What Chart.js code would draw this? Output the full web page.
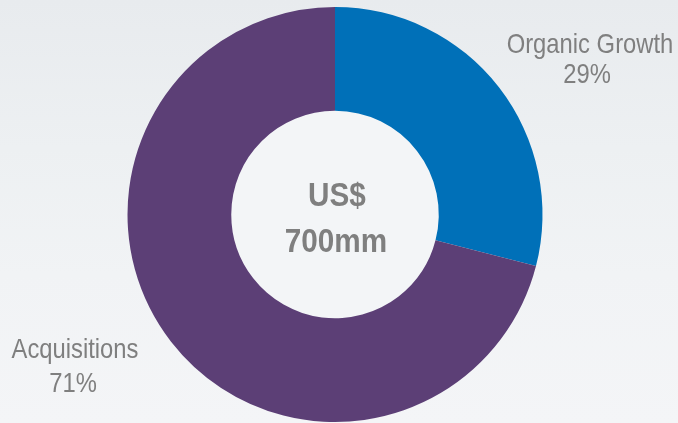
<!DOCTYPE html>
<html>
<head>
<meta charset="utf-8">
<script src="https://cdn.jsdelivr.net/npm/chart.js@4"></script>
<style>
  html, body { margin: 0; padding: 0; }
  body {
    width: 678px; height: 423px; overflow: hidden;
    background: linear-gradient(180deg, #e8ebee 0%, #edf0f2 35%, #f1f3f5 65%, #f4f5f7 100%);
  }
  #wrap { position: relative; width: 678px; height: 423px; }
</style>
</head>
<body>
<div id="wrap"><canvas id="mixChart" width="678" height="423"></canvas></div>
<script>
// Chart data
const categories = ["Organic Growth", "Acquisitions"];
const shares = [29, 71];
const sliceColors = ["#0070b8", "#5c3f76"];
const centerLines = ["US$", "700mm"];

// draw text slightly condensed like the original
function drawText(ctx, str, x, y, font, scaleX) {
  ctx.save();
  ctx.translate(x, y);
  ctx.scale(scaleX, 1);
  ctx.font = font;
  ctx.fillText(str, 0, 0);
  ctx.restore();
}

// Labels around and inside the ring
const labelPlugin = {
  id: "labelPlugin",
  beforeDatasetsDraw(chart) {
    // lighter fill for the hole
    const ctx = chart.ctx;
    const arc = chart.getDatasetMeta(0).data[0];
    ctx.save();
    ctx.fillStyle = "#f3f5f7";
    ctx.beginPath();
    ctx.arc(arc.x, arc.y, arc.innerRadius + 1, 0, Math.PI * 2);
    ctx.fill();
    ctx.restore();
  },
  afterDraw(chart) {
    const ctx = chart.ctx;
    const arc = chart.getDatasetMeta(0).data[0];
    const cx = arc.x, cy = arc.y;
    ctx.save();
    ctx.fillStyle = "#7f7f7f";
    ctx.textAlign = "center";
    ctx.textBaseline = "alphabetic";

    const f = "28px 'Liberation Sans', Arial, sans-serif";
    drawText(ctx, categories[0], 590, 53, f, 0.85);
    drawText(ctx, shares[0] + "%", 587, 83, f, 0.85);
    drawText(ctx, categories[1], 75, 358, f, 0.85);
    drawText(ctx, shares[1] + "%", 73, 392, f, 0.85);

    const fb = "bold 33px 'Liberation Sans', Arial, sans-serif";
    drawText(ctx, centerLines[0], cx + 2, cy - 9, fb, 0.9);
    drawText(ctx, centerLines[1], cx + 1, cy + 37, fb, 0.9);
    ctx.restore();
  }
};

const ctx = document.getElementById("mixChart").getContext("2d");
new Chart(ctx, {
  type: "doughnut",
  data: {
    labels: categories,
    datasets: [
      {
        data: shares,
        backgroundColor: sliceColors,
        borderWidth: 0
      }
    ]
  },
  options: {
    responsive: false,
    animation: false,
    cutout: "50%",
    layout: { padding: { top: 7, bottom: 1, left: 0, right: 8 } },
    plugins: {
      legend: { display: false },
      tooltip: { enabled: false }
    }
  },
  plugins: [labelPlugin]
});
</script>
</body>
</html>
